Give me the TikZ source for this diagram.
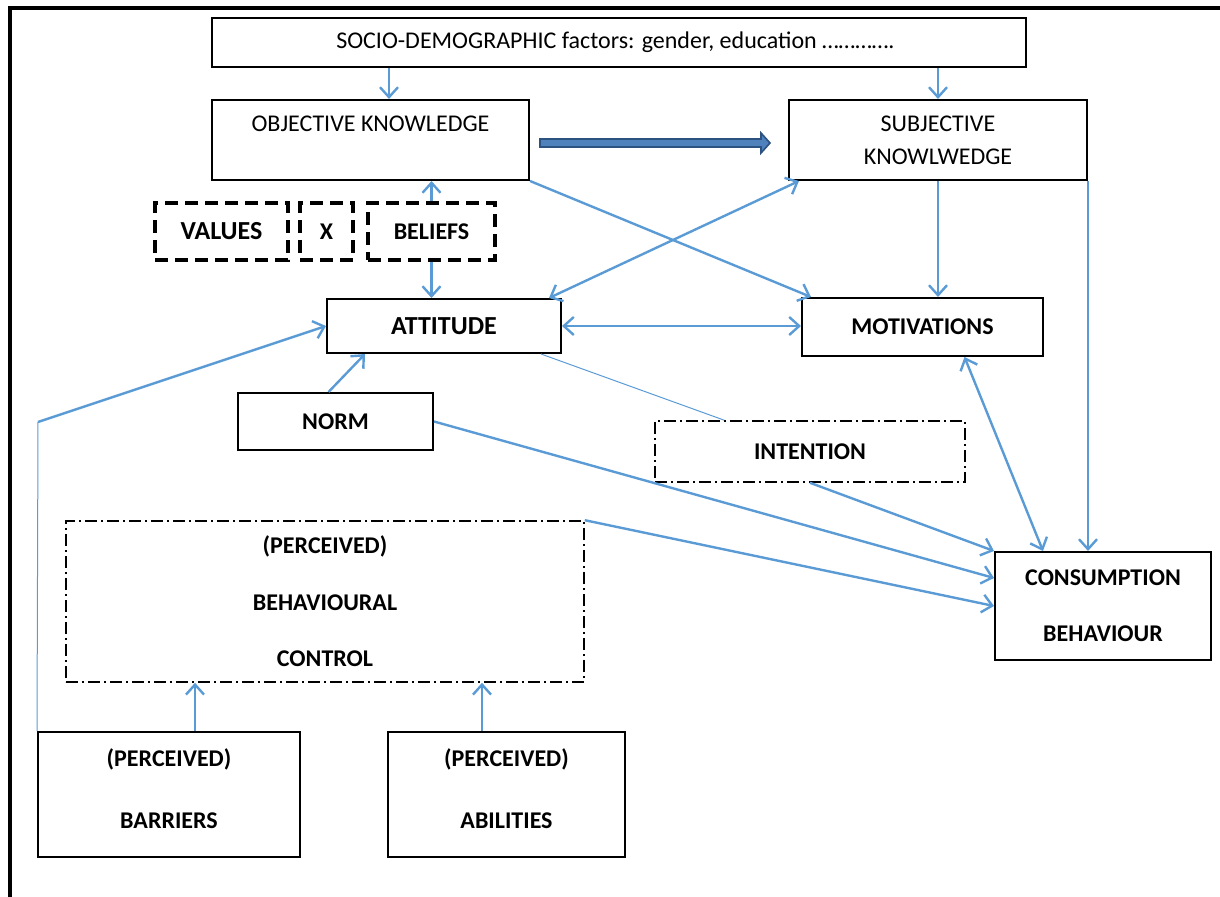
\documentclass[tikz,border=0pt]{standalone}
\usepackage{fontspec}
\setmainfont{Carlito}
\usepackage[usenames,dvipsnames,svgnames,table]{xcolor}
\usepackage{tikz}
\usetikzlibrary{arrows.meta,calc}

\definecolor{linkblue}{HTML}{5B9BD5}
\definecolor{bigfill}{HTML}{4F81BD}
\definecolor{bigedge}{HTML}{2C5282}

\begin{document}
\begin{tikzpicture}[x=0.5pt,y=-0.5pt,>={Straight Barb[length=5pt,width=9pt]},
    box/.style={draw,line width=1pt,inner sep=0pt,align=center,font=\fontsize{12}{14}\selectfont},
    bbox/.style={box,font=\bfseries\fontsize{12}{14}\selectfont},
    dashbox/.style={bbox,line width=1.7pt,dash pattern=on 6.5pt off 3.5pt},
    dotbox/.style={bbox,line width=0.8pt,dash pattern=on 6pt off 2pt on 1pt off 2pt},
    link/.style={draw=linkblue,line width=1.2pt},
    thinlink/.style={draw=linkblue,line width=0.5pt}]
        \useasboundingbox (0,0) rectangle (1220,897);
        \draw[line width=2pt] (10,897) -- (10,8) -- (1220,8);

        \node[box,minimum width=407pt,minimum height=24.5pt] (socio) at (619,42.5) {SOCIO-DEMOGRAPHIC factors: gender, education …………. };
        \node[box,minimum width=158.5pt,minimum height=40pt,font=\fontsize{12}{16.5}\selectfont] (objk) at (370.5,140) {OBJECTIVE KNOWLEDGE\\\vphantom{K}};
        \node[box,minimum width=149pt,minimum height=40pt,font=\fontsize{12}{16.5}\selectfont] (subk) at (938,140) {SUBJECTIVE\\KNOWLWEDGE};
        \draw[line width=0.8pt,draw=bigedge,fill=bigfill] (540,139) -- (761,139) -- (761,133) -- (770,143) -- (761,153) -- (761,147) -- (540,147) -- cycle;

        \node[dashbox,minimum width=66.5pt,minimum height=28.5pt,font=\bfseries\fontsize{13}{15}\selectfont] (values) at (221.5,231.5) {VALUES};
        \node[dashbox,minimum width=26.5pt,minimum height=28.5pt] (xbox) at (326.5,231.5) {X};
        \node[dashbox,minimum width=63.5pt,minimum height=28.5pt] (beliefs) at (431.5,231.5) {BELIEFS};

        \node[bbox,minimum width=117pt,minimum height=27pt,font=\bfseries\fontsize{13}{15}\selectfont] (att) at (444,326) {ATTITUDE};
        \node[bbox,minimum width=120.5pt,minimum height=29pt] (mot) at (922.5,327) {MOTIVATIONS};
        \node[bbox,minimum width=97.5pt,minimum height=28.5pt] (norm) at (335.5,421.5) {NORM};
        \node[dotbox,minimum width=155pt,minimum height=30.5pt] (int) at (810,451.5) {INTENTION};
        \node[dotbox,minimum width=259pt,minimum height=80.5pt,font=\bfseries\fontsize{12}{28.25}\selectfont] (pbc) at (325,601.5) {(PERCEIVED)\\BEHAVIOURAL\\CONTROL};
        \node[bbox,minimum width=108pt,minimum height=54pt,font=\bfseries\fontsize{12}{28}\selectfont] (cons) at (1103,606) {CONSUMPTION\\BEHAVIOUR};
        \node[bbox,minimum width=131pt,minimum height=62.5pt,text depth=6pt,font=\bfseries\fontsize{12}{31}\selectfont] (barr) at (169,794.5) {(PERCEIVED)\\BARRIERS};
        \node[bbox,minimum width=118.5pt,minimum height=62.5pt,text depth=6pt,font=\bfseries\fontsize{12}{31}\selectfont] (abil) at (506.5,794.5) {(PERCEIVED)\\ABILITIES};

        % knowledge
        \draw[link,->] ($(socio.south west)+(178,0)$) -- ($(objk.north west)+(178,0)$);
        \draw[link,->] (socio.south -| subk.north) -- (subk.north);
        \draw[link,->] (beliefs.north) -- (beliefs.north |- objk.south);
        \draw[link,->] (beliefs.south) -- (beliefs.south |- att.north);
        \draw[link,->] (objk.south east) -- ($(mot.north west)+(10,0)$);
        \draw[link,<->] ($(att.north east)+(-13,0)$) -- ($(subk.south west)+(11,0)$);
        \draw[link,->] (subk.south) -- (subk.south |- mot.north);
        \draw[link,->] (subk.south east) -- (subk.south east |- cons.north);
        \draw[link,<->] (att.east) -- (att.east -| mot.west);
        \draw[thinlink] ($(att.south east)+(-21,0)$) -- ($(int.north west)+(70,0)$);

        % towards behaviour
        \draw[link,->] ($(norm.north)+(-7,0)$) -- ($(att.south west)+(39,0)$);
        \draw[link,->] (norm.east) -- ($(cons.west)+(0,-28)$);
        \draw[link,->] (int.south) -- (cons.north west);
        \draw[link,->] (pbc.north east) -- (cons.west);
        \draw[link,<->] ($(mot.south)+(42,0)$) -- ($(cons.north)+(-60,0)$);

        % perceived control
        \coordinate (bend) at (38,422);
        \coordinate (barrtop) at ($(barr.north west)+(158,0)$);
        \coordinate (abiltop) at ($(abil.north west)+(95,0)$);
        \draw[thinlink] (barr.north west) -- (bend);
        \draw[link,->] (bend) -- (att.west);
        \draw[link,->] (barrtop) -- (barrtop |- pbc.south);
        \draw[link,->] (abiltop) -- (abiltop |- pbc.south);
    \end{tikzpicture}
\end{document}
